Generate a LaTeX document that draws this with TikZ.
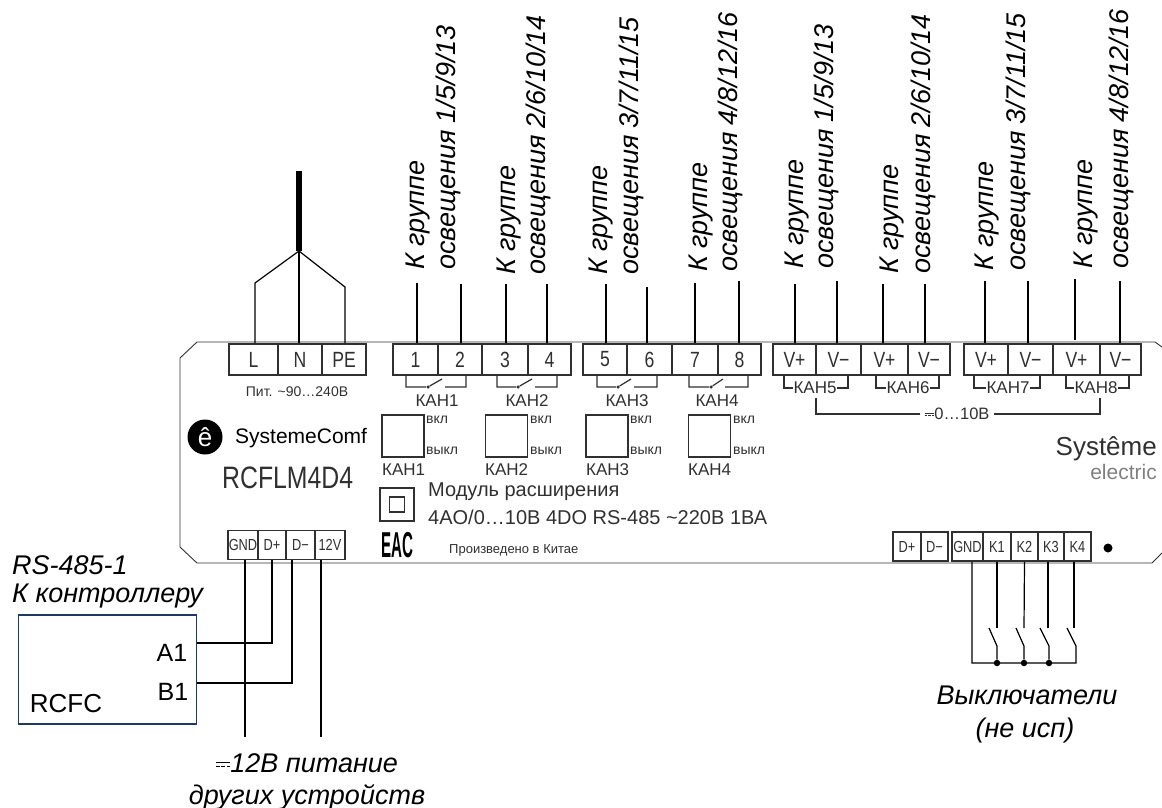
\documentclass[tikz,border=0pt]{standalone}
\usepackage{fontspec}
\setmainfont{Liberation Sans}
\newfontfamily\narrowfont[FakeStretch=0.8]{Liberation Sans}
\newfontfamily\eacfont[FakeStretch=0.42]{Liberation Sans}
\definecolor{boardgray}{HTML}{303030}
\definecolor{boxblue}{HTML}{1F3864}
\newcommand{\dcsign}{\leavevmode\rlap{\rule[.56em]{.9em}{.08em}}\rule[.36em]{.24em}{.06em}\hspace{.09em}\rule[.36em]{.24em}{.06em}\hspace{.09em}\rule[.36em]{.24em}{.06em}}
\begin{document}
\begin{tikzpicture}[x=1pt, y=-1pt,
  terminal/.style={rectangle, draw=boardgray, line width=1.8pt, fill=white, inner sep=0pt, minimum height=31pt, text=boardgray, font=\fontsize{22}{24}\selectfont\narrowfont},
  smallterminal/.style={rectangle, draw=boardgray, line width=1.6pt, fill=white, inner sep=0pt, minimum height=29pt, text=boardgray, font=\fontsize{16}{18}\selectfont\narrowfont},
  italiclabel/.style={inner sep=0pt, font=\fontsize{27}{32}\selectfont\itshape},
  grouplabel/.style={italiclabel, rotate=90, anchor=base west},
  boardlabel/.style={inner sep=0pt, text=boardgray, font=\fontsize{17}{20}\selectfont},
  tinylabel/.style={inner sep=0pt, anchor=west, text=boardgray, font=\fontsize{14}{16}\selectfont},
  modesquare/.style={rectangle, draw=boardgray, line width=1.2pt, fill=white, inner sep=0pt, minimum width=42pt, minimum height=42pt},
  joint/.style={circle, fill=black, inner sep=0pt, minimum size=6.5pt},
  switchdot/.style={circle, fill=boardgray, inner sep=0pt, minimum size=3.5pt},
  wire/.style={black, line width=1.2pt},
  boardline/.style={boardgray, line width=1.2pt}]
	\useasboundingbox (0,0) rectangle (1162,808);

	\draw [boardgray, line width=.9pt] (1162,347) -- (1155,342) -- (197,342) -- (180,358) -- (180,547) -- (197,563) -- (1152,563) -- (1162,553);

	\node [terminal, minimum width=49pt] (L) at (253.5,359.5) {L};
	\node [terminal, minimum width=44pt] (N) at (300,359.5) {N};
	\node [terminal, minimum width=44pt] (PE) at (344,359.5) {PE};
	\node [terminal, minimum width=45pt] (t1) at (415.5,359.5) {1};
	\node [terminal, minimum width=44pt] (t2) at (460,359.5) {2};
	\node [terminal, minimum width=46pt] (t3) at (505,359.5) {3};
	\node [terminal, minimum width=43pt] (t4) at (549.5,359.5) {4};
	\node [terminal, minimum width=44pt] (t5) at (605,359.5) {5};
	\node [terminal, minimum width=45pt] (t6) at (649.5,359.5) {6};
	\node [terminal, minimum width=46pt] (t7) at (695,359.5) {7};
	\node [terminal, minimum width=43pt] (t8) at (739.5,359.5) {8};
	\node [terminal, minimum width=43pt] (v1) at (794.5,359.5) {V+};
	\node [terminal, minimum width=45pt] (v2) at (838.5,359.5) {V−};
	\node [terminal, minimum width=47pt] (v3) at (884.5,359.5) {V+};
	\node [terminal, minimum width=42pt] (v4) at (929,359.5) {V−};
	\node [terminal, minimum width=44pt] (v5) at (986,359.5) {V+};
	\node [terminal, minimum width=45pt] (v6) at (1030.5,359.5) {V−};
	\node [terminal, minimum width=47pt] (v7) at (1076.5,359.5) {V+};
	\node [terminal, minimum width=41pt] (v8) at (1120.5,359.5) {V−};

	\node [smallterminal, minimum width=30pt] (gnd) at (243,545) {GND};
	\node [smallterminal, minimum width=28pt] (dp) at (272,545) {D+};
	\node [smallterminal, minimum width=29pt] (dm) at (300.5,545) {D−};
	\node [smallterminal, minimum width=30pt] (v12) at (330,545) {12V};
	\node [smallterminal, minimum width=28pt] (dpb) at (907,546.5) {D+};
	\node [smallterminal, minimum width=27pt] (dmb) at (934.5,546.5) {D−};
	\node [smallterminal, minimum width=31pt] (gndb) at (967.5,546.5) {GND};
	\node [smallterminal, minimum width=28pt] (k1) at (997,546.5) {K1};
	\node [smallterminal, minimum width=27pt] (k2) at (1024.5,546.5) {K2};
	\node [smallterminal, minimum width=26pt] (k3) at (1051,546.5) {K3};
	\node [smallterminal, minimum width=27pt] (k4) at (1077.5,546.5) {K4};
	\node [circle, fill=black, inner sep=0pt, minimum size=9pt] (led) at (1108,548) {};

	\node [boardlabel, font=\fontsize{14}{17}\selectfont] (pow) at (297,392) {Пит. \textasciitilde 90…240В};
	\node [boardlabel] (kan1) at (437,401) {КАН1};
	\node [boardlabel] (kan2) at (527,401) {КАН2};
	\node [boardlabel] (kan3) at (627,401) {КАН3};
	\node [boardlabel] (kan4) at (717,401) {КАН4};
	\node [boardlabel] (kan5) at (815,388) {КАН5};
	\node [boardlabel] (kan6) at (908,388) {КАН6};
	\node [boardlabel] (kan7) at (1008,388) {КАН7};
	\node [boardlabel] (kan8) at (1096,388) {КАН8};
	\node [boardlabel, inner xsep=4pt, font=\fontsize{16.5}{18}\selectfont] (analog) at (957,414) {{\fontsize{11}{11}\selectfont\dcsign}0…10В};

	\node [modesquare] (sq1) at (403,436) {};
	\node [modesquare] (sq2) at (506.5,436) {};
	\node [modesquare] (sq3) at (607,436) {};
	\node [modesquare] (sq4) at (709.5,436) {};
	\node [tinylabel] (on1) at (426,420) {вкл};
	\node [tinylabel] (off1) at (426,451) {выкл};
	\node [tinylabel] (on2) at (530,420) {вкл};
	\node [tinylabel] (off2) at (530,451) {выкл};
	\node [tinylabel] (on3) at (630,420) {вкл};
	\node [tinylabel] (off3) at (630,451) {выкл};
	\node [tinylabel] (on4) at (733,420) {вкл};
	\node [tinylabel] (off4) at (733,451) {выкл};
	\node [boardlabel, anchor=west] (name1) at (382,470) {КАН1};
	\node [boardlabel, anchor=west] (name2) at (485,470) {КАН2};
	\node [boardlabel, anchor=west] (name3) at (586,470) {КАН3};
	\node [boardlabel, anchor=west] (name4) at (688,470) {КАН4};

	\node [circle, fill=black, inner sep=0pt, minimum size=35pt, text=white, font=\fontsize{26}{30}\selectfont] (logo) at (205,437) {ê};
	\node [boardlabel, anchor=west, text=black, font=\fontsize{21}{25}\selectfont] (brand) at (235,438) {SystemeComf};
	\node [boardlabel, anchor=west, font=\fontsize{31}{34}\selectfont\narrowfont] (model) at (222,478) {RCFLM4D4};
	\node [rectangle, draw=boardgray, line width=1.4pt, inner sep=0pt, minimum width=34pt, minimum height=33pt] (dbl) at (397,504.5) {};
	\node [rectangle, draw=boardgray, line width=1.2pt, inner sep=0pt, minimum width=15pt, minimum height=15pt] (dblin) at (dbl) {};
	\node [boardlabel, anchor=west, font=\fontsize{20}{24}\selectfont] (mod1) at (428,492) {Модуль расширения};
	\node [boardlabel, anchor=west, font=\fontsize{20}{24}\selectfont] (mod2) at (428,517) {4AO/0…10В 4DO RS-485 \textasciitilde 220В 1ВА};
	\node [boardlabel, text=black, font=\fontsize{36}{38}\selectfont\bfseries\eacfont] (eac) at (397.5,545) {ЕАС};
	\node [boardlabel, anchor=west, font=\fontsize{13}{16}\selectfont] (made) at (449,550) {Произведено в Китае};
	\node [boardlabel, anchor=east, font=\fontsize{26}{28}\selectfont] (sys) at (1157,449) {Systême};
	\node [boardlabel, anchor=east, text=gray, font=\fontsize{21}{22}\selectfont] (elec) at (1157,472) {electric};

	\node [switchdot] (d1) at (428,387) {};
	\node [switchdot] (d2) at (518,387) {};
	\node [switchdot] (d3) at (618,387) {};
	\node [switchdot] (d4) at (711,387) {};
	\coordinate (tip1) at (442,379);
	\coordinate (tip2) at (532,379);
	\coordinate (tip3) at (631,379);
	\coordinate (tip4) at (723,379);
	\coordinate (r1) at (445,387);
	\coordinate (r2) at (535,387);
	\coordinate (r3) at (634,387);
	\coordinate (r4) at (725,387);
	\draw [boardline] (t1.south -| 406,0) |- (d1) -- (tip1) (r1) -| (t2.south -| 466,0);
	\draw [boardline] (t3.south -| 497,0) |- (d2) -- (tip2) (r2) -| (t4.south -| 557,0);
	\draw [boardline] (t5.south -| 597,0) |- (d3) -- (tip3) (r3) -| (t6.south -| 657,0);
	\draw [boardline] (t7.south -| 689,0) |- (d4) -- (tip4) (r4) -| (t8.south -| 748,0);
	\draw [boardline] (v1.south -| 784,0) |- (kan5.west);
	\draw [boardline] (v2.south -| 848,0) |- (kan5.east);
	\draw [boardline] (v3.south -| 876,0) |- (kan6.west);
	\draw [boardline] (v4.south -| 939,0) |- (kan6.east);
	\draw [boardline] (v5.south -| 974,0) |- (kan7.west);
	\draw [boardline] (v6.south -| 1040,0) |- (kan7.east);
	\draw [boardline] (v7.south -| 1066,0) |- (kan8.west);
	\draw [boardline] (v8.south -| 1129,0) |- (kan8.east);
	\coordinate (an1) at (816,398);
	\coordinate (an2) at (1100,398);
	\draw [boardline] (an1) |- (analog.west);
	\draw [boardline] (an2) |- (analog.east);

	\coordinate (cable) at (299,171);
	\coordinate (split) at (299,251);
	\coordinate (wL) at (255,283);
	\coordinate (wPE) at (345,287);
	\draw [black, line width=5.5pt] (cable) -- (split);
	\draw [wire] (split) -- (wL) -- (wL |- L.north);
	\draw [wire] (split) -- (split |- N.north);
	\draw [wire] (split) -- (wPE) -- (wPE |- PE.north);

	\coordinate (w1) at (417,283);
	\coordinate (w2) at (461,284);
	\coordinate (w3) at (506,284);
	\coordinate (w4) at (547,284);
	\coordinate (w5) at (606,284);
	\coordinate (w6) at (647,287);
	\coordinate (w7) at (695,283);
	\coordinate (w8) at (739,281);
	\coordinate (w9) at (795,284);
	\coordinate (w10) at (837,281);
	\coordinate (w11) at (883,284);
	\coordinate (w12) at (925,284);
	\coordinate (w13) at (985,281);
	\coordinate (w14) at (1028,281);
	\coordinate (w15) at (1075,279);
	\coordinate (w15b) at (1075,340);
	\coordinate (w16) at (1120,281);
	\path [wire] (w1) edge (w1 |- t1.north)
	             (w2) edge (w2 |- t2.north)
	             (w3) edge (w3 |- t3.north)
	             (w4) edge (w4 |- t4.north)
	             (w5) edge (w5 |- t5.north)
	             (w6) edge (w6 |- t6.north)
	             (w7) edge (w7 |- t7.north)
	             (w8) edge (w8 |- t8.north)
	             (w9) edge (w9 |- v1.north)
	             (w10) edge (w10 |- v2.north)
	             (w11) edge (w11 |- v3.north)
	             (w12) edge (w12 |- v4.north)
	             (w13) edge (w13 |- v5.north)
	             (w14) edge (w14 |- v6.north)
	             (w15) edge (w15b)
	             (w16) edge (w16 |- v8.north);

	\node [grouplabel] (g1) at (424,270) {К группе};
	\node [grouplabel] (l1) at (455,270) {освещения 1/5/9/13};
	\node [grouplabel] (g2) at (515,275) {К группе};
	\node [grouplabel] (l2) at (545,275) {освещения 2/6/10/14};
	\node [grouplabel] (g3) at (607,275) {К группе};
	\node [grouplabel] (l3) at (638,275) {освещения 3/7/11/15};
	\node [grouplabel] (g4) at (707,272) {К группе};
	\node [grouplabel] (l4) at (737,272) {освещения 4/8/12/16};
	\node [grouplabel] (g5) at (803,269) {К группе};
	\node [grouplabel] (l5) at (833,269) {освещения 1/5/9/13};
	\node [grouplabel] (g6) at (898,274) {К группе};
	\node [grouplabel] (l6) at (930,274) {освещения 2/6/10/14};
	\node [grouplabel] (g7) at (993,271) {К группе};
	\node [grouplabel] (l7) at (1025,271) {освещения 3/7/11/15};
	\node [grouplabel] (g8) at (1092,269) {К группе};
	\node [grouplabel] (l8) at (1128,269) {освещения 4/8/12/16};

	\node [rectangle, draw=boxblue, line width=1.5pt, inner sep=0pt, minimum width=178pt, minimum height=109pt] (rcfc) at (107.5,669.5) {};
	\node [inner sep=0pt, font=\fontsize{25}{30}\selectfont] (a1) at (172,653) {A1};
	\node [inner sep=0pt, font=\fontsize{25}{30}\selectfont] (b1) at (173,692) {B1};
	\node [inner sep=0pt, font=\fontsize{26}{30}\selectfont] (rcfcname) at (66,704) {RCFC};
	\node [italiclabel, anchor=west] (rs) at (12,565) {RS-485-1};
	\node [italiclabel, anchor=west] (ctrl) at (12,596) {К контроллеру};
	\coordinate (gndend) at (245,737);
	\coordinate (v12end) at (321,737);
	\coordinate (dmdrop) at (292,683);
	\draw [wire] (gndend |- gnd.south) -- (gndend);
	\draw [wire] (v12end |- v12.south) -- (v12end);
	\draw [wire] (rcfc.east |- 0,643) -| (dp.south);
	\draw [wire] (rcfc.east |- dmdrop) -- (dmdrop) -- (dmdrop |- dm.south);
	\node [italiclabel] (sup1) at (307,763) {{\upshape\fontsize{16}{16}\selectfont\dcsign}12В питание};
	\node [italiclabel] (sup2) at (307,797) {других устройств};

	\coordinate (c1) at (997,628);
	\coordinate (c2) at (1024,628);
	\coordinate (c3) at (1048,628);
	\coordinate (c4) at (1074,628);
	\coordinate (s1) at (997,646);
	\coordinate (s2) at (1024,646);
	\coordinate (s3) at (1049,646);
	\coordinate (s4) at (1076,646);
	\coordinate (o1) at (989,628);
	\coordinate (o2) at (1016,628);
	\coordinate (o3) at (1040,628);
	\coordinate (o4) at (1067,628);
	\node [joint] (j1) at (997,663) {};
	\node [joint] (j2) at (1024,663) {};
	\node [joint] (j3) at (1049,663) {};
	\coordinate (endb) at (1076,663);
	\coordinate (gndbend) at (972,663);
	\draw [wire] (k1.south) -- (c1);
	\draw [wire] (k2.south) -- (c2);
	\draw [wire] (k3.south -| c3) -- (c3);
	\draw [wire] (k4.south -| c4) -- (c4);
	\draw [wire] (gndbend |- gndb.south) -- (gndbend) -- (endb) -- (s4) -- (o4);
	\draw [wire] (j1) -- (s1) -- (o1);
	\draw [wire] (j2) -- (s2) -- (o2);
	\draw [wire] (j3) -- (s3) -- (o3);
	\node [italiclabel] (sw1) at (1027,695) {Выключатели};
	\node [italiclabel] (sw2) at (1025,731) {(не исп)};
\end{tikzpicture}
\end{document}
